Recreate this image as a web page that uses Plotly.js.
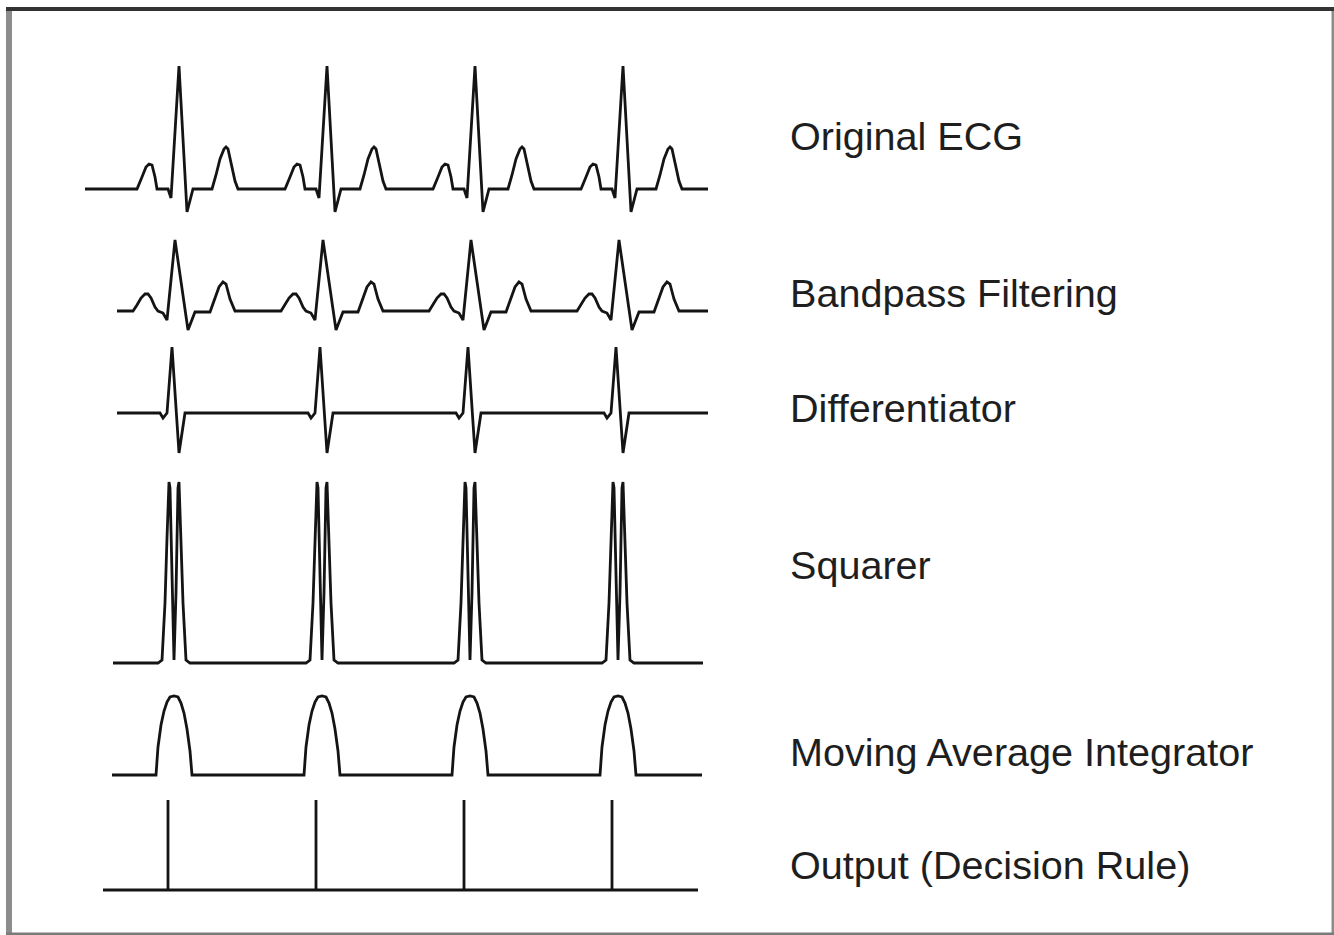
<!DOCTYPE html>
<html>
<head>
<meta charset="utf-8">
<script src="https://cdn.plot.ly/plotly-3.0.1.min.js"></script>
<style>
  html, body { margin: 0; padding: 0; background: #ffffff; }
  #chart { width: 1334px; height: 935px; }
</style>
</head>
<body>
<div id="chart"></div>
<script>
// ---------------- DATA ----------------
// Stage names (labels on the right)
const stageLabels = [
  "Original ECG",
  "Bandpass Filtering",
  "Differentiator",
  "Squarer",
  "Moving Average Integrator",
  "Output (Decision Rule)"
];

// R-peak sample indices of the four beats in the original ECG (fs ≈ 185 Hz)
const rPeaks = [94, 242, 390, 538];

// Per-stage sample delay relative to the original R peaks
const stageDelay = [0, -4, -7, -5, -5, -11];

// Record start / end sample for each stage
const recordStart = [0, 32, 32, 28, 27, 18];
const recordEnd   = [623, 623, 623, 618, 617, 613];

// Beat templates: sample offsets from the beat and amplitudes (arbitrary units)
const ecgT = [-42, -37, -33, -30, -27, -24, -22, -11, -8, 0, 8, 14, 33, 37, 41, 45, 47, 49, 52, 56, 59];
const ecgA = [0, 12, 22, 25, 24, 12, 0, 0, -9, 123, -23, 0, 0, 14, 30, 40, 42, 40, 26, 8, 0];

const bpT = [-42, -38, -34, -30, -27, -24, -20, -17, -12, -8, 0, 13, 20, 35, 39, 44, 48, 51, 55, 60];
const bpA = [0, 6, 13, 17, 17, 13, 4, 0, -2, -9, 71, -19, -1, -1, 10, 24, 29, 27, 12, 0];

const diffT = [-12, -9, -5, 0, 7, 13];
const diffA = [0, -5, 0, 66, -40, 0];

const sqT = [-16, -12, -9, -7, -5, -4, -2, 0, 2, 4, 5, 7, 9, 12, 16];
const sqA = [0, 3, 60, 125, 181, 175, 70, 3, 70, 175, 181, 125, 60, 3, 0];

const maT = [-18, -16, -13, -10, -7, -4, 0, 4, 7, 10, 13, 16, 18];
const maA = [0, 28, 50, 64, 73, 78, 79, 78, 72, 62, 46, 24, 0];

const outT = [0, 0, 0];
const outA = [0, 90, 0];

const templatesT = [ecgT, bpT, diffT, sqT, maT, outT];
const templatesA = [ecgA, bpA, diffA, sqA, maA, outA];

// ---------------- LAYOUT (pixel geometry) ----------------
const W = 1334, H = 935;
const xZeroPx = 85;                 // pixel where sample 0 sits
const baselinePx = [189, 311, 413, 663, 775, 890];
const upPx   = [130, 78, 70, 186, 84, 94];
const downPx = [30, 24, 46, 6, 6, 6];
const labelXPx = 788;
const labelYPx = [136, 293, 408, 565, 752, 865];

const traces = [];
const layout = {
  width: W, height: H,
  margin: {l: 0, r: 0, t: 0, b: 0, pad: 0},
  paper_bgcolor: "#ffffff",
  plot_bgcolor: "rgba(0,0,0,0)",
  showlegend: false,
  hovermode: false,
  xaxis: {
    range: [-xZeroPx, W - xZeroPx],
    domain: [0, 1],
    visible: false, showgrid: false, zeroline: false, fixedrange: true
  },
  annotations: [],
  shapes: []
};

for (let s = 0; s < stageLabels.length; s++) {
  const xs = [recordStart[s]];
  const ys = [0];
  const tT = templatesT[s], tA = templatesA[s];
  rPeaks.forEach(function (r) {
    const c = r + stageDelay[s];
    for (let k = 0; k < tT.length; k++) {
      xs.push(c + tT[k]);
      ys.push(tA[k]);
    }
  });
  xs.push(recordEnd[s]);
  ys.push(0);

  const axName = s === 0 ? "yaxis" : "yaxis" + (s + 1);
  const axRef = s === 0 ? "y" : "y" + (s + 1);
  const topPx = baselinePx[s] - upPx[s];
  const botPx = baselinePx[s] + downPx[s];
  layout[axName] = {
    domain: [1 - botPx / H, 1 - topPx / H],
    range: [-downPx[s], upPx[s]],
    anchor: "x",
    visible: false, showgrid: false, zeroline: false, fixedrange: true
  };

  traces.push({
    type: "scatter",
    mode: "lines",
    x: xs,
    y: ys,
    xaxis: "x",
    yaxis: axRef,
    line: {color: "#141414", width: 2.8, shape: "linear"},
    cliponaxis: false,
    hoverinfo: "skip"
  });

  layout.annotations.push({
    text: stageLabels[s],
    xref: "paper", yref: "paper",
    x: labelXPx / W, y: 1 - labelYPx[s] / H,
    xanchor: "left", yanchor: "middle",
    showarrow: false,
    font: {family: "Liberation Sans, Arial, sans-serif", size: 39.6, color: "#1e1e1e"}
  });
}

// Frame around the figure
function hLine(yPx, x0Px, x1Px, color, width) {
  return {type: "line", xref: "paper", yref: "paper",
          x0: x0Px / W, x1: x1Px / W, y0: 1 - yPx / H, y1: 1 - yPx / H,
          line: {color: color, width: width}};
}
function vLine(xPx, y0Px, y1Px, color, width) {
  return {type: "line", xref: "paper", yref: "paper",
          x0: xPx / W, x1: xPx / W, y0: 1 - y0Px / H, y1: 1 - y1Px / H,
          line: {color: color, width: width}};
}
layout.shapes.push(vLine(9, 7, 935, "#8c8c8c", 6));
layout.shapes.push(vLine(1333, 7, 935, "#8c8c8c", 3));
layout.shapes.push(hLine(934, 6, 1334, "#7a7a7a", 3));
layout.shapes.push(hLine(9, 6, 1334, "#333333", 4));

Plotly.newPlot("chart", traces, layout, {displayModeBar: false, staticPlot: true});
</script>
</body>
</html>
